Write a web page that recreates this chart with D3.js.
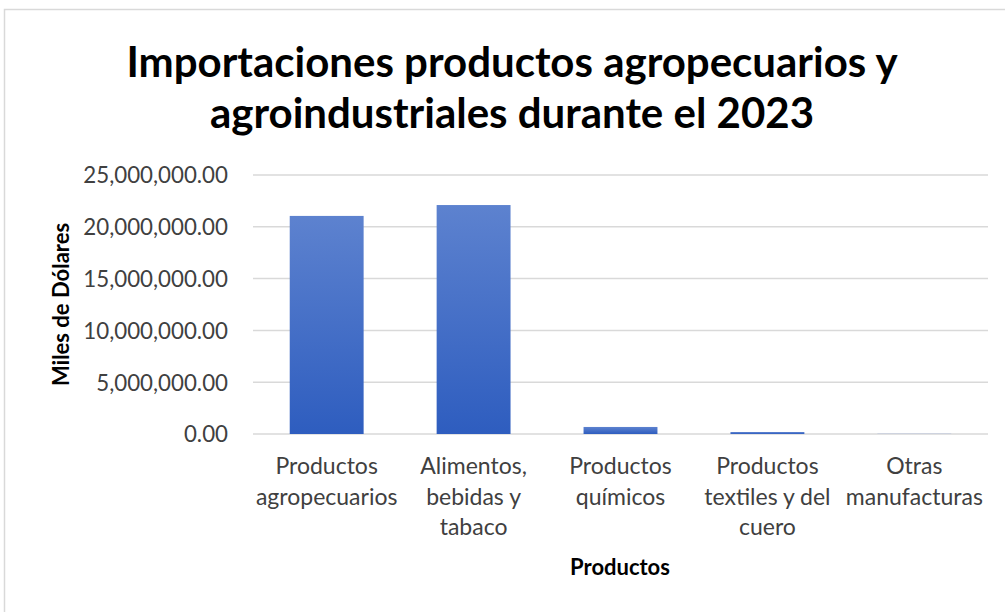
<!DOCTYPE html>
<meta charset="utf-8">
<title>Importaciones 2023</title>
<style>
body { margin: 0; background: #fff; }
svg { display: block; font-family: Lato, "Open Sans", sans-serif; }
.grid line { stroke: #d9d9d9; stroke-width: 1.5; }
.tick text { fill: #404040; }
</style>
<script src="https://d3js.org/d3.v7.min.js"></script>
<body>
<script>
// chart data
var categories = [
  ["Productos", "agropecuarios"],
  ["Alimentos,", "bebidas y", "tabaco"],
  ["Productos", "químicos"],
  ["Productos", "textiles y del", "cuero"],
  ["Otras", "manufacturas"]
];
var values = [21050000, 22100000, 680000, 190000, 15000];
var yTicks = [0, 5000000, 10000000, 15000000, 20000000, 25000000];
var titleLines = ["Importaciones productos agropecuarios y", "agroindustriales durante el 2023"];

var width = 1005, height = 612;
var margin = {left: 253, right: 17, top: 175, bottom: 178};

var svg = d3.select("body").append("svg")
    .attr("width", width)
    .attr("height", height);

// outer chart frame (only top and left visible in the crop)
svg.append("path")
    .attr("d", "M4.5," + height + " V9.5 H" + width)
    .attr("fill", "none")
    .attr("stroke", "#d9d9d9")
    .attr("stroke-width", 1.5);

var defs = svg.append("defs");
var grad = defs.append("linearGradient")
    .attr("id", "barGrad")
    .attr("x1", 0).attr("y1", 0).attr("x2", 0).attr("y2", 1);
grad.append("stop").attr("offset", "0%").attr("stop-color", "#5d82cf");
grad.append("stop").attr("offset", "100%").attr("stop-color", "#2e5dbf");

var x = d3.scaleBand()
    .domain(d3.range(categories.length))
    .range([margin.left, width - margin.right])
    .paddingInner(0.497)
    .paddingOuter(0.25);

var y = d3.scaleLinear()
    .domain([0, 25000000])
    .range([height - margin.bottom, margin.top]);

// gridlines
svg.append("g")
    .attr("class", "grid")
    .selectAll("line")
    .data(yTicks)
  .enter().append("line")
    .attr("x1", margin.left)
    .attr("x2", width - margin.right)
    .attr("y1", function(d) { return y(d); })
    .attr("y2", function(d) { return y(d); });

// y axis labels
var fmt = d3.format(",.2f");
var yAxis = d3.axisLeft(y)
    .tickValues(yTicks)
    .tickFormat(fmt)
    .tickSize(0)
    .tickPadding(25);
var yg = svg.append("g")
    .attr("transform", "translate(" + margin.left + ",0)")
    .call(yAxis);
yg.attr("font-family", null).attr("font-size", null);
yg.select(".domain").remove();
yg.selectAll("text")
    .style("font-size", "22.3px")
    .attr("dy", "0.35em");

// bars
svg.append("g")
    .selectAll("rect")
    .data(values)
  .enter().append("rect")
    .attr("x", function(d, i) { return x(i); })
    .attr("y", function(d) { return y(d); })
    .attr("width", x.bandwidth())
    .attr("height", function(d) { return y(0) - y(d); })
    .attr("fill", "url(#barGrad)");

// category labels
var cat = svg.append("g")
    .selectAll("text")
    .data(categories)
  .enter().append("text")
    .attr("x", function(d, i) { return x(i) + x.bandwidth() / 2; })
    .attr("y", 474)
    .attr("text-anchor", "middle")
    .style("font-size", "23px")
    .attr("fill", "#404040");
cat.selectAll("tspan")
    .data(function(d) { return d; })
  .enter().append("tspan")
    .attr("x", function() { return d3.select(this.parentNode).attr("x"); })
    .attr("dy", function(d, i) { return i === 0 ? 0 : 30.5; })
    .text(function(d) { return d; });

// axis titles
svg.append("text")
    .attr("x", 620)
    .attr("y", 575)
    .attr("text-anchor", "middle")
    .style("font-size", "22px")
    .style("font-weight", "bold")
    .attr("fill", "#000")
    .text("Productos");

svg.append("text")
    .attr("transform", "translate(69," + ((y(0) + y(25000000)) / 2) + ") rotate(-90)")
    .attr("text-anchor", "middle")
    .style("font-size", "22px")
    .style("font-weight", "bold")
    .attr("fill", "#000")
    .text("Miles de Dólares");

// title
svg.append("g")
    .selectAll("text")
    .data(titleLines)
  .enter().append("text")
    .attr("x", 512)
    .attr("y", function(d, i) { return 77 + i * 51; })
    .attr("text-anchor", "middle")
    .style("font-size", "42px")
    .style("font-weight", "bold")
    .attr("fill", "#000")
    .text(function(d) { return d; });
</script>
